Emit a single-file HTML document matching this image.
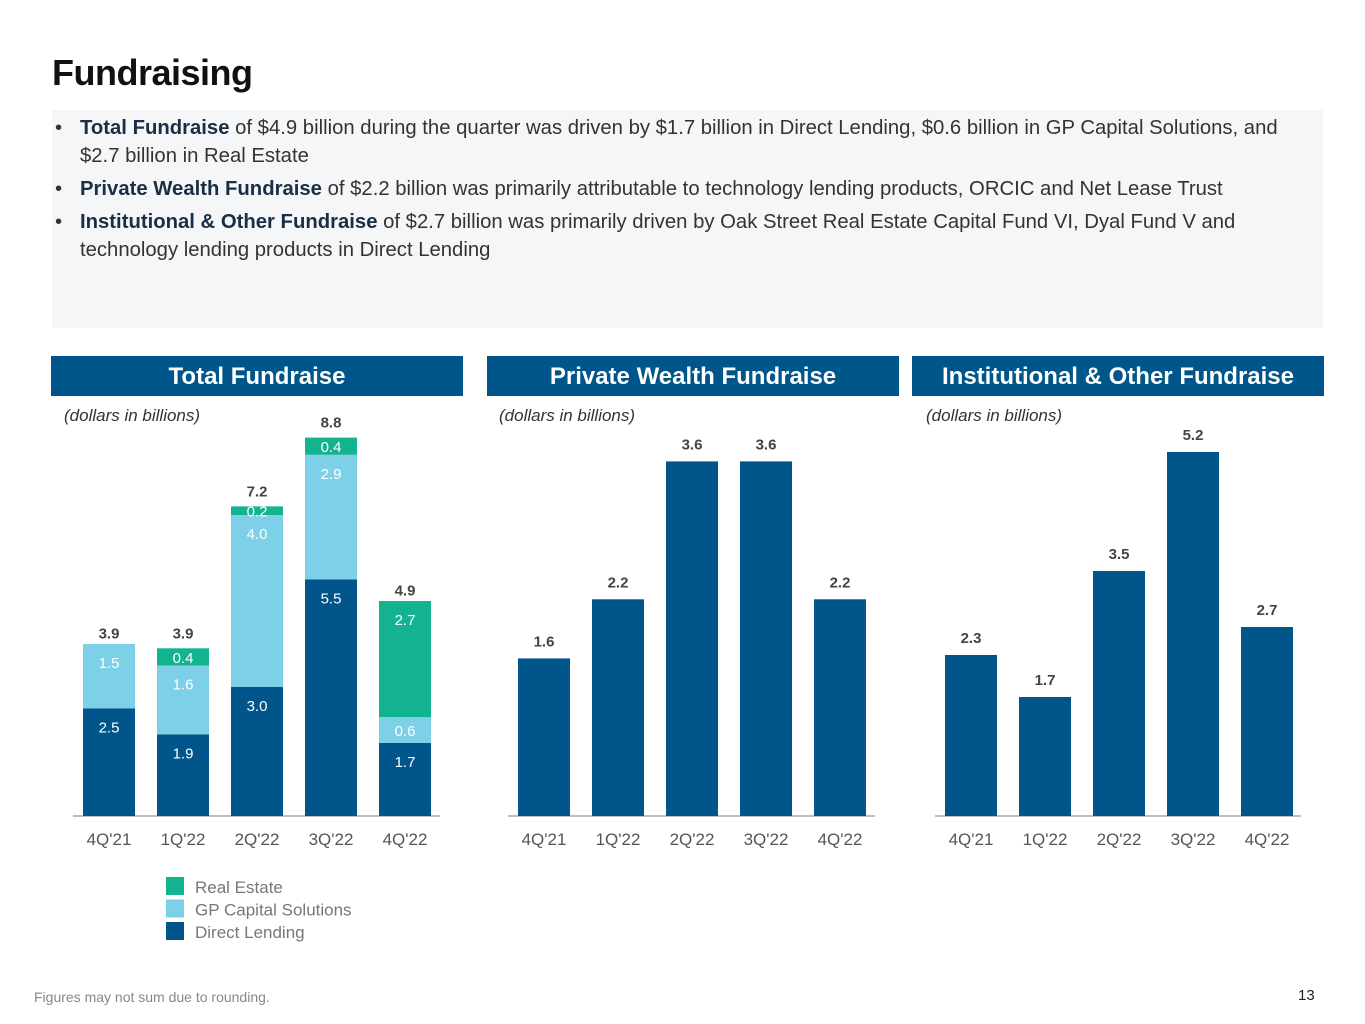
<!DOCTYPE html>
<html><head><meta charset="utf-8"><style>
body{margin:0;width:1365px;height:1024px;background:#fff;font-family:"Liberation Sans",sans-serif;position:relative;overflow:hidden;color:#333}
.abs{position:absolute}
h1{position:absolute;left:52px;top:52px;margin:0;font-size:36px;font-weight:bold;color:#111;letter-spacing:-0.5px}
.box{left:52px;top:110px;width:1271px;height:218px;background:#f5f6f7}
ul{position:absolute;left:55px;top:114px;margin:0;padding:0;list-style:none;font-size:20.3px;line-height:28px;color:#333;width:1262px}
li{position:relative;padding-left:25px;margin-bottom:5px}
li:before{content:"•";position:absolute;left:0}
li b{color:#1a2e45}
.hdr{top:356px;height:40px;background:#00558a;color:#fff;font-weight:bold;font-size:24px;text-align:center;line-height:41px}
.unit{top:406px;font-style:italic;font-size:17px;color:#333}
.foot{left:34px;top:989px;font-size:14px;color:#888}
.pg{left:1298px;top:987px;font-size:15px;color:#222}
</style></head><body>
<h1>Fundraising</h1>
<div class="abs box"></div>
<ul>
<li><b>Total Fundraise</b> of $4.9 billion during the quarter was driven by $1.7 billion in Direct Lending, $0.6 billion in GP Capital Solutions, and $2.7 billion in Real Estate</li>
<li><b>Private Wealth Fundraise</b> of $2.2 billion was primarily attributable to technology lending products, ORCIC and Net Lease Trust</li>
<li><b>Institutional &amp; Other Fundraise</b> of $2.7 billion was primarily driven by Oak Street Real Estate Capital Fund VI, Dyal Fund V and technology lending products in Direct Lending</li>
</ul>
<div class="abs hdr" style="left:51px;width:412px">Total Fundraise</div>
<div class="abs hdr" style="left:487px;width:412px">Private Wealth Fundraise</div>
<div class="abs hdr" style="left:912px;width:412px">Institutional &amp; Other Fundraise</div>
<div class="abs unit" style="left:64px">(dollars in billions)</div>
<div class="abs unit" style="left:499px">(dollars in billions)</div>
<div class="abs unit" style="left:926px">(dollars in billions)</div>
<svg id="c" class="abs" style="left:0;top:0" width="1365" height="1024"></svg>
<div class="abs foot">Figures may not sum due to rounding.</div>
<div class="abs pg">13</div>
<script>
const categories=["4Q'21","1Q'22","2Q'22","3Q'22","4Q'22"];
const directLending=[2.5,1.9,3.0,5.5,1.7];
const gpCapital=[1.5,1.6,4.0,2.9,0.6];
const realEstate=[0,0.4,0.2,0.4,2.7];
const totals=[3.9,3.9,7.2,8.8,4.9];
const privateWealth=[1.6,2.2,3.6,3.6,2.2];
const institutional=[2.3,1.7,3.5,5.2,2.7];
const svg=document.getElementById('c');
const NS='http://www.w3.org/2000/svg';
const base=816;
function mk(t,a,txt){const e=document.createElementNS(NS,t);for(const k in a)e.setAttribute(k,a[k]);if(txt!==undefined)e.textContent=txt;svg.appendChild(e);return e;}
const C={dl:'#00558a',gp:'#7dd0e8',re:'#14b38f'};
function axis(x0,x1,left,step){
 const l=mk('line',{x1:x0,x2:x1,y1:base,y2:base,stroke:'#aaa','stroke-width':1.5});
 
 categories.forEach((c,i)=>{const t=mk('text',{x:left+26+i*step,y:845,'text-anchor':'middle','font-size':17,fill:'#555'},c);
 });
}
function yS(v,s){return base-v*s;}
const s1=43,l1=83,st1=74;
axis(73,440,l1,st1);
categories.forEach((c,i)=>{
 const x=l1+i*st1;let cum=0;
 [[directLending,'dl'],[gpCapital,'gp'],[realEstate,'re']].forEach(([arr,k])=>{
  const v=arr[i];if(v<=0)return;
  const y0=yS(cum,s1),y1=yS(cum+v,s1);cum+=v;
  const r=mk('rect',{x:x,y:y1,width:52,height:y0-y1,fill:C[k]});
  
  const h=y0-y1;const ty=h<40?(y1+h/2+6):(y1+24);
  const t=mk('text',{x:x+26,y:ty,'text-anchor':'middle','font-size':15,fill:'#fff'},v.toFixed(1));
  
 });
 const t=mk('text',{x:x+26,y:yS(totals[i],s1)-10,'text-anchor':'middle','font-size':15,'font-weight':'bold',fill:'#444'},totals[i].toFixed(1));
 
});
function simple(arr,s,left,x0,x1,nm){
 axis(x0,x1,left,74);
 arr.forEach((v,i)=>{const x=left+i*74;const y=yS(v,s);
  const r=mk('rect',{x:x,y:y,width:52,height:base-y,fill:C.dl});
  
  const t=mk('text',{x:x+26,y:y-12,'text-anchor':'middle','font-size':15,'font-weight':'bold',fill:'#444'},v.toFixed(1));
  });
}
simple(privateWealth,98.5,518,508,875,'pw');
simple(institutional,70,945,935,1301,'inst');
[['re','Real Estate'],['gp','GP Capital Solutions'],['dl','Direct Lending']].forEach(([k,n],i)=>{
 const r=mk('rect',{x:166,y:877+i*22.5,width:18,height:18,fill:C[k]});
 
 const t=mk('text',{x:195,y:893+i*22.5,'font-size':17,fill:'#777'},n);
 
});
</script>
</body></html>
